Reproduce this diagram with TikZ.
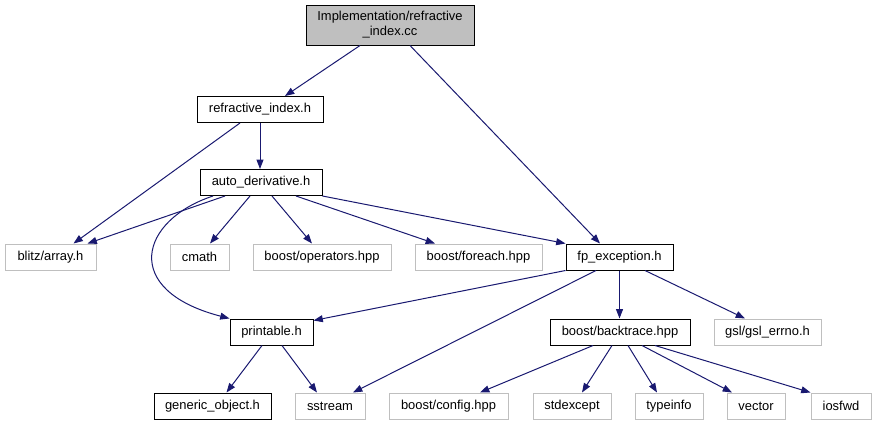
\documentclass[tikz,border=0pt]{standalone}
\usepackage{fontspec}
\setmainfont{Liberation Sans}
\usepackage{tikz}
\usetikzlibrary{arrows.meta,calc}
\definecolor{cEdge}{HTML}{191970}
\definecolor{cExt}{HTML}{BFBFBF}
\definecolor{cRoot}{HTML}{BFBFBF}
\tikzset{
  blk/.style={draw=black, line width=0.75pt, fill=white, inner sep=0pt,
              minimum height=19.5pt, align=center,
              font=\fontsize{9.7}{11.3}\selectfont},
  rootblk/.style={blk, fill=cRoot, minimum height=30pt},
  extblk/.style={blk, draw=cExt},
  arr/.style={-{Triangle[length=7pt,width=5.2pt]}, line width=0.75pt, cEdge}
}
\begin{document}
\begin{tikzpicture}[x=0.75pt, y=-0.75pt]
\useasboundingbox (0,0) rectangle (877,425);
% ----- row 0/1 -----
\node[rootblk, minimum width=126pt] (cc) at (390,25) {Implementation/refractive\\\_index.cc};
\node[blk, minimum width=94.5pt] (rih) at (260,109.5) {refractive\_index.h};
\node[blk, minimum width=91.5pt] (ad) at (261,182.5) {auto\_derivative.h};
% ----- row 2 -----
\node[extblk, minimum width=68.25pt] (blitz) at (50.5,257) {blitz/array.h};
\node[extblk, minimum width=44.25pt] (cmath) at (199.5,257) {cmath};
\node[extblk, minimum width=103.5pt] (ops) at (322,257) {boost/operators.hpp};
\node[extblk, minimum width=95.25pt] (foreach) at (478.5,257) {boost/foreach.hpp};
\node[blk, minimum width=80.25pt] (fpe) at (619.5,257) {fp\_exception.h};
% ----- row 3 -----
\node[blk, minimum width=62.25pt] (prt) at (271.5,332) {printable.h};
\node[blk, minimum width=105pt] (bt) at (620,332) {boost/backtrace.hpp};
\node[extblk, minimum width=80.25pt] (gsl) at (767.5,332) {gsl/gsl\_errno.h};
% ----- row 4 -----
\node[blk, minimum width=87.75pt] (gen) at (212.5,406) {generic\_object.h};
\node[extblk, minimum width=52.5pt] (sst) at (330,406) {sstream};
\node[extblk, minimum width=89.25pt] (cfg) at (448.5,406) {boost/config.hpp};
\node[extblk, minimum width=58.5pt] (stdx) at (572,406) {stdexcept};
\node[extblk, minimum width=51pt] (tinfo) at (669,406) {typeinfo};
\node[extblk, minimum width=43.5pt] (vec) at (756,406) {vector};
\node[extblk, minimum width=45pt] (iosf) at (841,406) {iosfwd};
% ----- edges -----
\draw[arr] ($(cc.south)+(-30,0)$) -- ($(rih.north)+(25,0)$);
\draw[arr] ($(cc.south)+(20,0)$) -- ($(fpe.north)+(-19.5,0)$);
\draw[arr] ($(rih.south)+(-20,0)$) -- ($(blitz.north)+(23,0)$);
\draw[arr] (rih.south) -- (rih.south |- ad.north);
\draw[arr] ($(ad.south)+(-36,0)$) -- ($(blitz.north)+(37,0)$);
\draw[arr] ($(ad.south)+(-48,0)$) .. controls (140,220) and (120,290) .. (prt.north west);
\draw[arr] ($(ad.south)+(-11,0)$) -- ($(cmath.north)+(10.5,0)$);
\draw[arr] ($(ad.south)+(11,0)$) -- ($(ops.north)+(-10,0)$);
\draw[arr] ($(ad.south)+(35,0)$) -- ($(foreach.north)+(-43.5,0)$);
\draw[arr] (ad.south east) -- (fpe.north west);
\draw[arr] (fpe.south west) -- ($(prt.north east)+(0,2)$);
\draw[arr] ($(fpe.south)+(-23.5,0)$) -- ($(sst.north)+(23,0)$);
\draw[arr] (fpe.south) -- (fpe.south |- bt.north);
\draw[arr] ($(fpe.south)+(25.5,0)$) -- ($(gsl.north)+(-22.5,0)$);
\draw[arr] ($(prt.south)+(-9.5,0)$) -- ($(gen.north)+(14,0)$);
\draw[arr] ($(prt.south)+(10.5,0)$) -- ($(sst.north)+(-13,0)$);
\draw[arr] ($(bt.south)+(-27,0)$) -- ($(cfg.north)+(31.5,0)$);
\draw[arr] ($(bt.south)+(-8,0)$) -- ($(stdx.north)+(10,0)$);
\draw[arr] ($(bt.south)+(8,0)$) -- ($(tinfo.north)+(-12,0)$);
\draw[arr] ($(bt.south)+(22,0)$) -- ($(vec.north)+(-24,0)$);
\draw[arr] ($(bt.south)+(35,0)$) -- (iosf.north west);
\end{tikzpicture}
\end{document}
